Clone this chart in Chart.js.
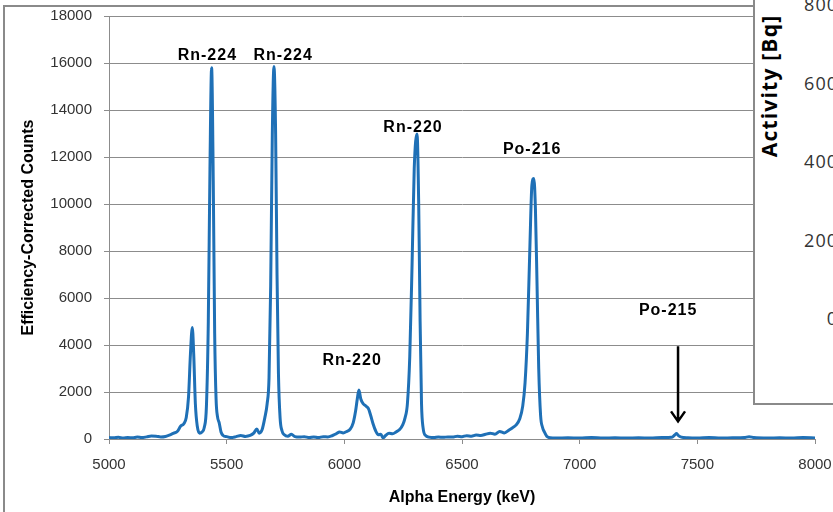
<!DOCTYPE html>
<html>
<head>
<meta charset="utf-8">
<script src="https://cdn.jsdelivr.net/npm/chart.js@4.4.1/dist/chart.umd.min.js"></script>
<style>
  body { margin: 0; width: 833px; height: 512px; overflow: hidden; background: #fff; position: relative; }
  #wrap { position: absolute; left: 0; top: 0; width: 833px; height: 512px; }
  #inset { position: absolute; left: 753px; top: -4px; width: 120px; height: 409px; background: #fff;
           border-left: 2px solid #8a8a8a; border-bottom: 2px solid #8a8a8a; box-sizing: border-box; }
  #insetTitle { position: absolute; left: 769px; top: 86px; transform: translate(-50%, -50%) rotate(-90deg);
                font: bold 21px "Open Sans", sans-serif; letter-spacing: 1.2px; color: #000; white-space: nowrap; }
  .itick { position: absolute; right: -5px; transform: translateY(-50%); font: 18px "Open Sans", sans-serif;
           letter-spacing: 1px; color: #333; }
</style>
</head>
<body>
<div id="wrap"><canvas id="spectrum"></canvas></div>
<div id="inset"></div>
<div id="insetTitle">Activity [Bq]</div>
<script>
// alpha spectrum
const energy = [5000, 5020, 5040, 5060, 5080, 5100, 5120, 5140, 5160, 5180, 5200, 5220, 5240, 5260, 5275, 5290,
  5305, 5318, 5328, 5338, 5346, 5354, 5360, 5367, 5375, 5385, 5395, 5405, 5414, 5422, 5429, 5436, 5443, 5449,
  5455, 5461, 5468, 5476, 5485, 5500, 5520, 5540, 5560, 5580, 5600, 5615, 5628, 5638, 5650, 5662, 5672, 5680,
  5687, 5694, 5701, 5708, 5714, 5720, 5727, 5735, 5745, 5760, 5775, 5790, 5810, 5830, 5850, 5870, 5890, 5910,
  5930, 5950, 5965, 5980, 5995, 6010, 6025, 6038, 6048, 6055, 6062, 6070, 6080, 6092, 6102, 6112, 6122, 6133,
  6145, 6155, 6165, 6175, 6190, 6205, 6220, 6235, 6248, 6258, 6268, 6278, 6288, 6297, 6309, 6316, 6322, 6328,
  6335, 6345, 6360, 6380, 6400, 6420, 6440, 6460, 6480, 6500, 6520, 6540, 6560, 6580, 6600, 6620, 6640, 6660,
  6680, 6700, 6715, 6730, 6745, 6758, 6768, 6778, 6788, 6797, 6805, 6812, 6819, 6826, 6834, 6842, 6850, 6860,
  6875, 6900, 6950, 7000, 7050, 7100, 7150, 7200, 7250, 7300, 7350, 7390, 7403, 7412, 7420, 7432, 7460, 7500,
  7550, 7600, 7650, 7700, 7720, 7740, 7800, 7850, 7900, 7950, 8000];
const counts = [60, 50, 70, 40, 60, 50, 80, 60, 90, 130, 120, 90, 110, 180, 250, 320,
  550, 650, 900, 1800, 3600, 4750, 3600, 1500, 550, 250, 300, 500, 1400, 5000, 11500, 15800, 11000, 4500,
  1700, 950, 700, 300, 150, 100, 60, 100, 150, 110, 150, 250, 430, 250, 380, 900, 1500, 2600,
  6500, 13000, 15850, 13000, 7000, 2800, 900, 350, 180, 120, 200, 100, 80, 100, 60, 90, 60, 100,
  90, 150, 220, 300, 260, 320, 420, 700, 1200, 1700, 2080, 1700, 1500, 1400, 1300, 1000, 650, 350,
  180, 200, 50, 150, 250, 220, 300, 400, 600, 900, 1500, 3500, 7500, 11500, 12980, 10000, 5000, 1500,
  450, 150, 80, 60, 80, 70, 90, 80, 120, 100, 140, 120, 170, 150, 200, 250, 200, 320,
  260, 380, 480, 600, 850, 1400, 2400, 4500, 8000, 10800, 11090, 9800, 6500, 3000, 1000, 500, 300, 120,
  50, 40, 50, 40, 60, 40, 50, 40, 50, 40, 60, 70, 160, 230, 140, 80, 50, 40,
  60, 40, 50, 60, 100, 60, 40, 50, 40, 60, 40];

// peak labels (energy, counts where the text sits)
const peakNames = ['Rn-224', 'Rn-224', 'Rn-220', 'Po-216', 'Rn-220', 'Po-215'];
const peakLabelX = [5418, 5740, 6292, 6798, 6033, 7376];
const peakLabelY = [16300, 16300, 13250, 12300, 3350, 5470];
const arrowX = 7418, arrowFrom = 3950, arrowTo = 750;

const insetTicks = ['800', '600', '400', '200', '0'];
insetTicks.forEach((t, i) => {
    const d = document.createElement('div');
    d.className = 'itick';
    d.style.top = (4 + i * 78.5) + 'px';
    d.textContent = t;
    document.body.appendChild(d);
});

const tickFont = { family: '"Liberation Sans", Arial, sans-serif', size: 15 };
const titleFont = { family: '"Liberation Sans", Arial, sans-serif', size: 16, weight: 'bold' };

const frame = {
    id: 'frame',
    beforeDraw(chart) {
        const c = chart.ctx;
        c.save();
        c.strokeStyle = '#8a8a8a';
        c.lineWidth = 2;
        c.strokeRect(4, 6, 900, 600);
        c.restore();
    }
};

const peakText = {
    id: 'peakText',
    afterDatasetsDraw(chart) {
        const c = chart.ctx, xs = chart.scales.x, ys = chart.scales.y;
        c.save();
        c.fillStyle = '#000';
        c.font = 'bold 16px "Liberation Sans", Arial, sans-serif';
        c.letterSpacing = '1px';
        c.textAlign = 'center';
        c.textBaseline = 'middle';
        peakNames.forEach((n, i) => {
            c.fillText(n, xs.getPixelForValue(peakLabelX[i]), ys.getPixelForValue(peakLabelY[i]));
        });
        // arrow to Po-215
        const ax = xs.getPixelForValue(arrowX);
        const y0 = ys.getPixelForValue(arrowFrom), y1 = ys.getPixelForValue(arrowTo);
        c.strokeStyle = '#000';
        c.lineWidth = 2.5;
        c.beginPath();
        c.moveTo(ax, y0);
        c.lineTo(ax, y1);
        c.moveTo(ax - 7, y1 - 10);
        c.lineTo(ax, y1);
        c.lineTo(ax + 7, y1 - 10);
        c.stroke();
        c.restore();
    }
};

new Chart(document.getElementById('spectrum'), {
    type: 'line',
    data: {
        datasets: [{
            data: energy.map((e, i) => ({ x: e, y: counts[i] })),
            borderColor: '#1f70b6',
            borderWidth: 3,
            pointRadius: 0,
            fill: false,
            cubicInterpolationMode: 'monotone'
        }]
    },
    options: {
        responsive: true,
        maintainAspectRatio: false,
        animation: false,
        layout: { padding: 0 },
        plugins: { legend: { display: false }, tooltip: { enabled: false } },
        scales: {
            x: {
                type: 'linear',
                min: 5000,
                max: 8000,
                afterFit: s => { s.height = 73; s.paddingLeft = 0; s.paddingRight = 18; },
                ticks: { stepSize: 500, color: '#333', font: tickFont, padding: 12, maxRotation: 0, callback: v => String(v) },
                grid: { drawOnChartArea: false, drawTicks: true, tickLength: 5, color: '#8c8c8c' },
                border: { color: '#8c8c8c' },
                title: { display: true, text: 'Alpha Energy (keV)', color: '#000', font: titleFont, padding: { top: 0, bottom: 5 } }
            },
            y: {
                min: 0,
                max: 18000,
                afterFit: s => { s.width = 109; s.paddingTop = 16; s.paddingBottom = 0; },
                ticks: { stepSize: 2000, color: '#333', font: tickFont, padding: 12, callback: v => String(v) },
                grid: { color: '#8c8c8c', tickLength: 5 },
                border: { color: '#8c8c8c' },
                title: { display: true, text: 'Efficiency-Corrected Counts', color: '#000', font: titleFont, padding: { top: 19, bottom: 0 } }
            }
        }
    },
    plugins: [frame, peakText]
});
</script>
</body>
</html>
